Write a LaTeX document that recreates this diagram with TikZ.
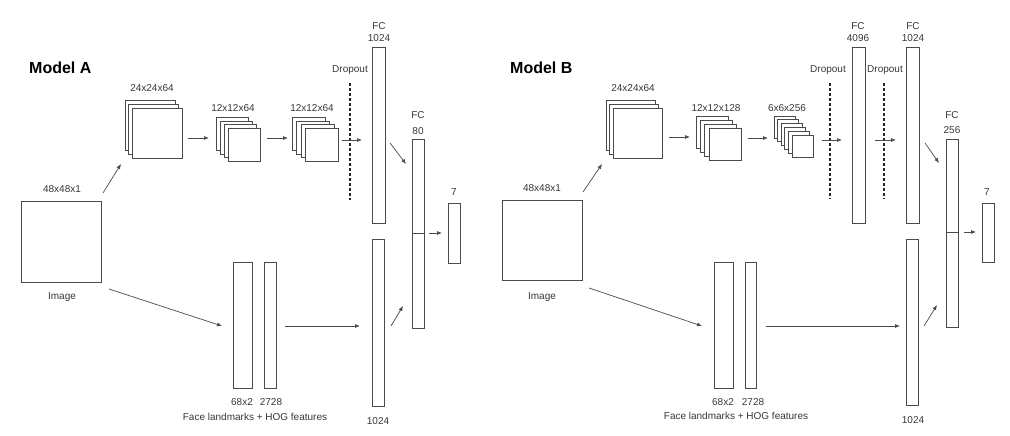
\documentclass[tikz,border=0pt]{standalone}
\usepackage{fontspec}
\setmainfont{Liberation Sans}
\usetikzlibrary{arrows.meta,calc}
\definecolor{ln}{HTML}{4A4A4A}
\definecolor{tx}{HTML}{383838}
\tikzset{
  box/.style={draw=ln, line width=0.8pt, fill=white, inner sep=0pt, outer sep=0pt, anchor=north west},
  lbl/.style={text=tx, inner sep=0pt, font=\fontsize{10}{12}\selectfont},
  title/.style={text=black, inner sep=0pt, anchor=west, font=\fontsize{16}{19}\selectfont\bfseries},
  arr/.style={draw=ln, line width=0.7pt, -{Latex[length=5pt,width=4pt]}},
  dropline/.style={draw=black!85, line width=1.2pt, dash pattern=on 2.7pt off 2.3pt},
  midline/.style={draw=ln, line width=0.8pt}
}
\newcommand{\bx}[5]{\node[box, minimum width=#4, minimum height=#5] (#1) at (#2,#3) {};}
\begin{document}
\begin{tikzpicture}[x=1pt,y=-1pt]
\useasboundingbox[fill=white] (0,0) rectangle (1010,436);

% ================= Model A =================
\node[title] (tA) at (29,68) {Model A};
\bx{imgA}{21}{201}{80}{81}
\node[lbl] (limgA) at (62,189) {48x48x1};
\node[lbl] (iimgA) at (62,297) {Image};

\bx{c1Aa}{125}{100}{50}{50}
\bx{c1Ab}{128.5}{104}{50}{50}
\bx{c1Ac}{132}{108}{50}{50}
\node[lbl] (lc1A) at (152,88) {24x24x64};

\bx{c2Aa}{216}{117}{32}{33}
\bx{c2Ab}{220}{121}{32}{33}
\bx{c2Ac}{224}{124.5}{32}{33}
\bx{c2Ad}{228}{128}{32}{33}
\node[lbl] (lc2A) at (233,108) {12x12x64};

\bx{c3Aa}{292}{117}{33}{33}
\bx{c3Ab}{296.5}{121}{33}{33}
\bx{c3Ac}{301}{124.5}{33}{33}
\bx{c3Ad}{305}{128}{33}{33}
\node[lbl] (lc3A) at (312,108) {12x12x64};

\coordinate (dAt) at (350,83);
\coordinate (dAb) at (350,200);
\draw[dropline] (dAt) -- (dAb);
\node[lbl] (ldA) at (350,70) {Dropout};

\bx{fc1A}{372}{47}{13}{176}
\node[lbl] (fc1Al1) at (379,26) {FC};
\node[lbl] (fc1Al2) at (379,38) {1024};

\bx{lowA}{372}{239}{12}{167}
\node[lbl] (llowA) at (378,421) {1024};

\bx{fc2A}{412}{139}{12}{189}
\draw[midline] ($(fc2A.north west)+(0,94)$) -- ($(fc2A.north east)+(0,94)$);
\node[lbl] (fc2Al1) at (418,115) {FC};
\node[lbl] (fc2Al2) at (418,131) {80};

\bx{outA}{448}{203}{12}{60}
\node[lbl] (loutA) at (454,192) {7};

\bx{fA1}{233}{262}{19}{126}
\bx{fA2}{264}{262}{12}{126}
\node[lbl] (lfA1) at (242,402) {68x2};
\node[lbl] (lfA2) at (271,402) {2728};
\node[lbl] (lfA) at (255,417) {Face landmarks + HOG features};

\draw[arr] ($(imgA.north west)+(82,-8)$) -- ($(c1Aa.north west)+(-4,64)$);
\draw[arr] ($(c1Ac.north west)+(56,30)$) -- ($(c2Aa.north west)+(-7,21)$);
\draw[arr] ($(c2Ad.north west)+(39,10)$) -- ($(c3Aa.north west)+(-4,21)$);
\draw[arr] ($(c3Ad.north west)+(37,12)$) -- ($(fc1A.north west)+(-10,93)$);
\draw[arr] ($(fc1A.north west)+(18,96)$) -- ($(fc2A.north west)+(-6,25)$);
\draw[arr] ($(lowA.north west)+(19,87)$) -- ($(fc2A.north west)+(-9,167)$);
\draw[arr] ($(fc2A.north west)+(17,94)$) -- ($(outA.north west)+(-6,30)$);
\draw[arr] ($(imgA.north west)+(88,88)$) -- ($(fA1.north west)+(-11,64)$);
\draw[arr] ($(fA2.north west)+(21,64)$) -- ($(lowA.north west)+(-12,87)$);

% ================= Model B =================
\node[title] (tB) at (510,68) {Model B};
\bx{imgB}{502}{200}{80}{80}
\node[lbl] (limgB) at (542,188) {48x48x1};
\node[lbl] (iimgB) at (542,297) {Image};

\bx{c1Ba}{606}{100}{49}{50}
\bx{c1Bb}{609.5}{104}{49}{50}
\bx{c1Bc}{613}{108}{49}{50}
\node[lbl] (lc1B) at (633,88) {24x24x64};

\bx{c2Ba}{696}{116}{32}{32}
\bx{c2Bb}{700.3}{120}{32}{32}
\bx{c2Bc}{704.6}{124}{32}{32}
\bx{c2Bd}{709}{128}{32}{32}
\node[lbl] (lc2B) at (716,108) {12x12x128};

\bx{c3Ba}{774}{116}{21}{22}
\bx{c3Bb}{777.6}{119.8}{21}{22}
\bx{c3Bc}{781.2}{123.6}{21}{22}
\bx{c3Bd}{784.8}{127.4}{21}{22}
\bx{c3Be}{788.4}{131.2}{21}{22}
\bx{c3Bf}{792}{135}{21}{22}
\node[lbl] (lc3B) at (787,108) {6x6x256};

\coordinate (dB1t) at (830,83);
\coordinate (dB1b) at (830,199);
\draw[dropline] (dB1t) -- (dB1b);
\node[lbl] (ldB1) at (828,70) {Dropout};
\coordinate (dB2t) at (884,83);
\coordinate (dB2b) at (884,199);
\draw[dropline] (dB2t) -- (dB2b);
\node[lbl] (ldB2) at (885,70) {Dropout};

\bx{fc1B}{852}{47}{13}{176}
\node[lbl] (fc1Bl1) at (858,26) {FC};
\node[lbl] (fc1Bl2) at (858,38) {4096};

\bx{fc2B}{906}{47}{13}{176}
\node[lbl] (fc2Bl1) at (913,26) {FC};
\node[lbl] (fc2Bl2) at (913,38) {1024};

\bx{lowB}{906}{239}{12}{166}
\node[lbl] (llowB) at (913,420) {1024};

\bx{fc3B}{946}{139}{12}{188}
\draw[midline] ($(fc3B.north west)+(0,93)$) -- ($(fc3B.north east)+(0,93)$);
\node[lbl] (fc3Bl1) at (952,115) {FC};
\node[lbl] (fc3Bl2) at (952,130) {256};

\bx{outB}{982}{203}{12}{59}
\node[lbl] (loutB) at (987,192) {7};

\bx{fB1}{714}{262}{19}{126}
\bx{fB2}{745}{262}{11}{126}
\node[lbl] (lfB1) at (723,402) {68x2};
\node[lbl] (lfB2) at (753,402) {2728};
\node[lbl] (lfB) at (736,416) {Face landmarks + HOG features};

\draw[arr] ($(imgB.north west)+(81,-8)$) -- ($(c1Ba.north west)+(-4,64)$);
\draw[arr] ($(c1Bc.north west)+(56,29)$) -- ($(c2Ba.north west)+(-6,21)$);
\draw[arr] ($(c2Bd.north west)+(39,10)$) -- ($(c3Ba.north west)+(-6,22)$);
\draw[arr] ($(c3Bf.north west)+(30,5)$) -- ($(fc1B.north west)+(-10,93)$);
\draw[arr] ($(fc1B.north west)+(23,93)$) -- ($(fc2B.north west)+(-10,93)$);
\draw[arr] ($(fc2B.north west)+(19,96)$) -- ($(fc3B.north west)+(-7,24)$);
\draw[arr] ($(lowB.north west)+(18,87)$) -- ($(fc3B.north west)+(-9,166)$);
\draw[arr] ($(fc3B.north west)+(18,93)$) -- ($(outB.north west)+(-6,29)$);
\draw[arr] ($(imgB.north west)+(87,88)$) -- ($(fB1.north west)+(-12,64)$);
\draw[arr] ($(fB2.north west)+(21,64)$) -- ($(lowB.north west)+(-6,87)$);
\end{tikzpicture}
\end{document}
